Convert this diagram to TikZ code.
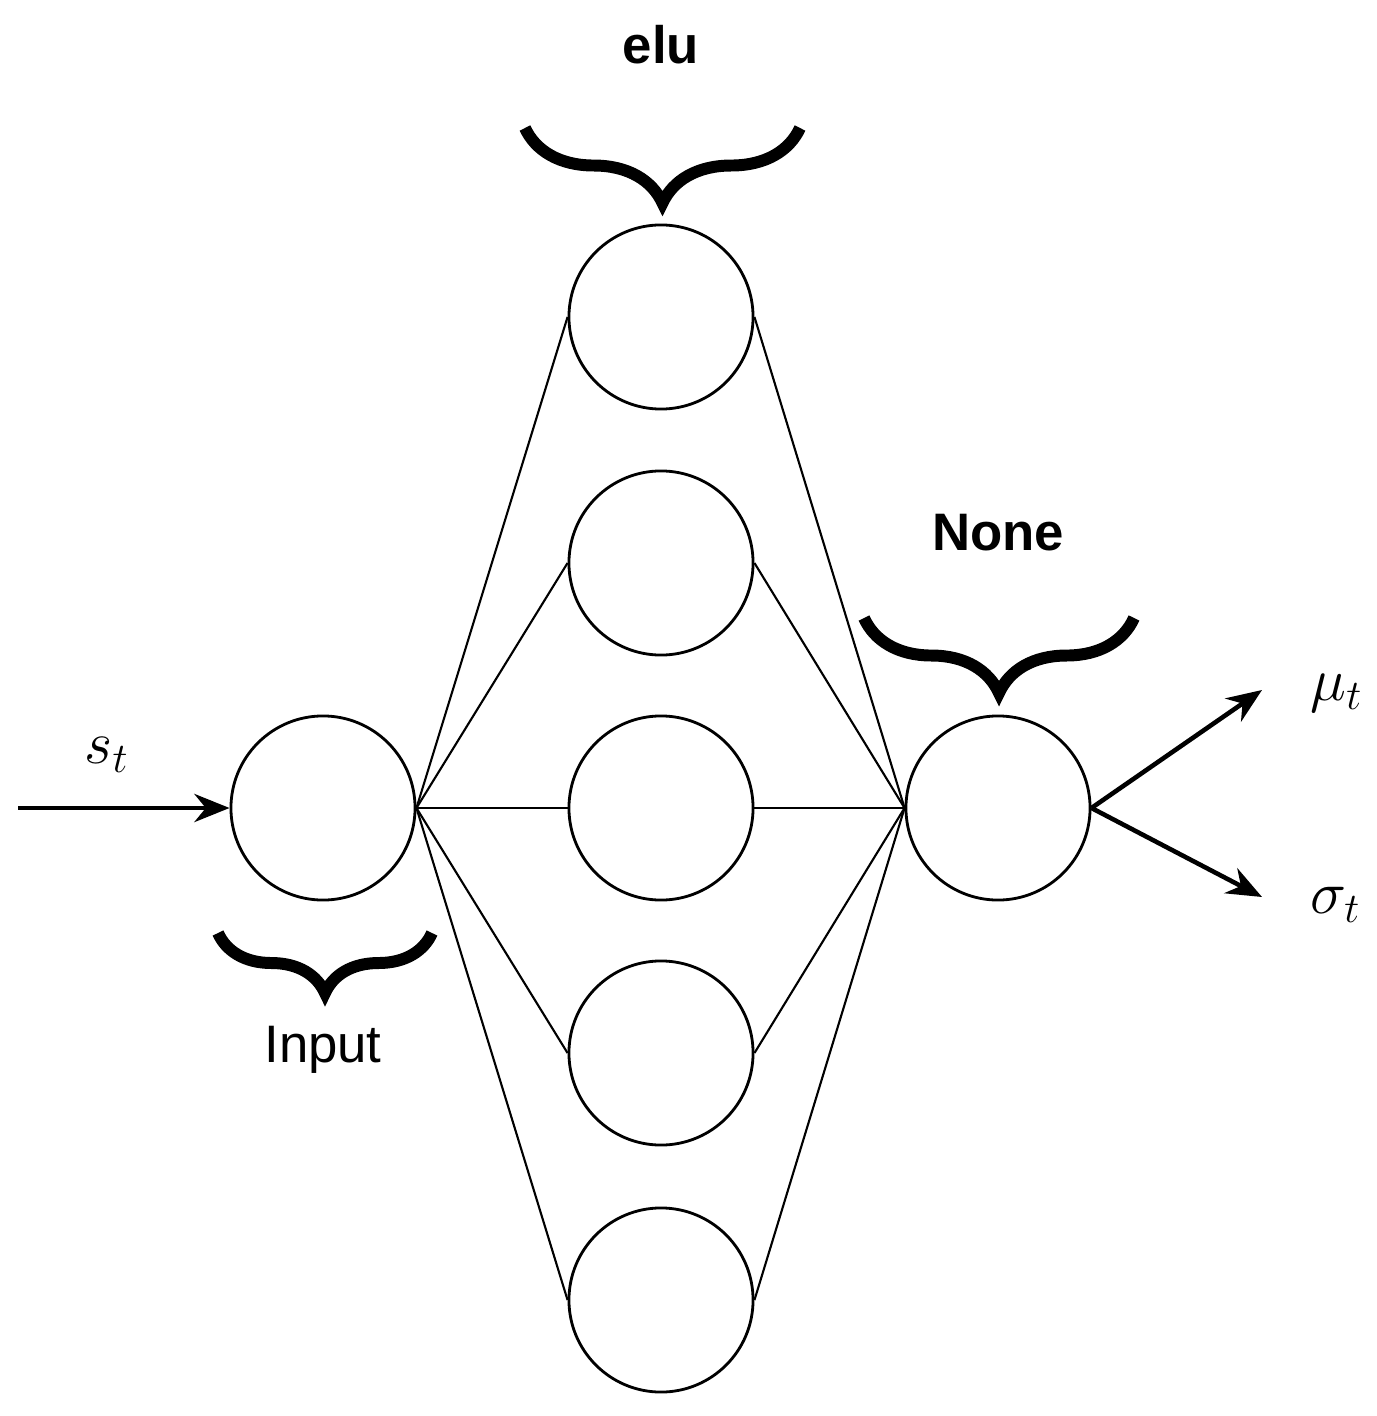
\documentclass[tikz,border=0pt]{standalone}
\usepackage{fontspec}
\setmainfont{Liberation Sans}
\usetikzlibrary{decorations.pathreplacing,arrows.meta}
\tikzset{
  neuron/.style={circle,draw,line width=0.8pt,minimum size=1.84cm,inner sep=0pt},
  layerbrace/.style={decorate,decoration={brace,amplitude=0.75cm,aspect=0.5},line width=3.4pt},
  lbl/.style={font=\fontsize{15}{18}\selectfont},
  sym/.style={font=\fontsize{17}{20}\selectfont},
  io/.style={-{Stealth[length=10pt,width=8pt]},line width=1.3pt}
}
\begin{document}
\begin{tikzpicture}[x=0.01cm,y=-0.01cm]
  \useasboundingbox (0,0) rectangle (1377,1416);
  % neurons
  \node[neuron] (in) at (323,808) {};
  \foreach \i/\y in {1/317,2/563,3/808,4/1053,5/1300}
    \node[neuron] (h\i) at (661,\y) {};
  \node[neuron] (out) at (998,808) {};
  % connections
  \foreach \i in {1,...,5} {
    \draw[line width=0.6pt] (in.east) -- (h\i.west);
    \draw[line width=0.6pt] (h\i.east) -- (out.west);
  }
  % inputs and outputs
  \coordinate (src) at (18,808);
  \coordinate (mu) at (1262,690);
  \coordinate (sig) at (1262,897);
  \draw[io] (src) -- (in.west);
  \draw[io] (out.east) -- (mu);
  \draw[io] (out.east) -- (sig);
  \node[sym] (st) at (107,755) {$s_t$};
  \node[sym,anchor=west] (mut) at (1298,693) {$\mu_t$};
  \node[sym,anchor=west] (sigt) at (1298,905) {$\sigma_t$};
  % braces
  \draw[layerbrace] (800,128) -- (525,128);
  \draw[layerbrace] (1134,618) -- (864,618);
  \draw[layerbrace,decoration={amplitude=0.6cm}] (432,933) -- (218,933);
  % layer labels
  \node[lbl,font=\fontsize{15}{18}\selectfont\bfseries] (elu) at (661,45) {elu};
  \node[lbl,font=\fontsize{15}{18}\selectfont\bfseries] (none) at (998,533) {None};
  \node[lbl] (inp) at (323,1050) {Input};
\end{tikzpicture}
\end{document}
